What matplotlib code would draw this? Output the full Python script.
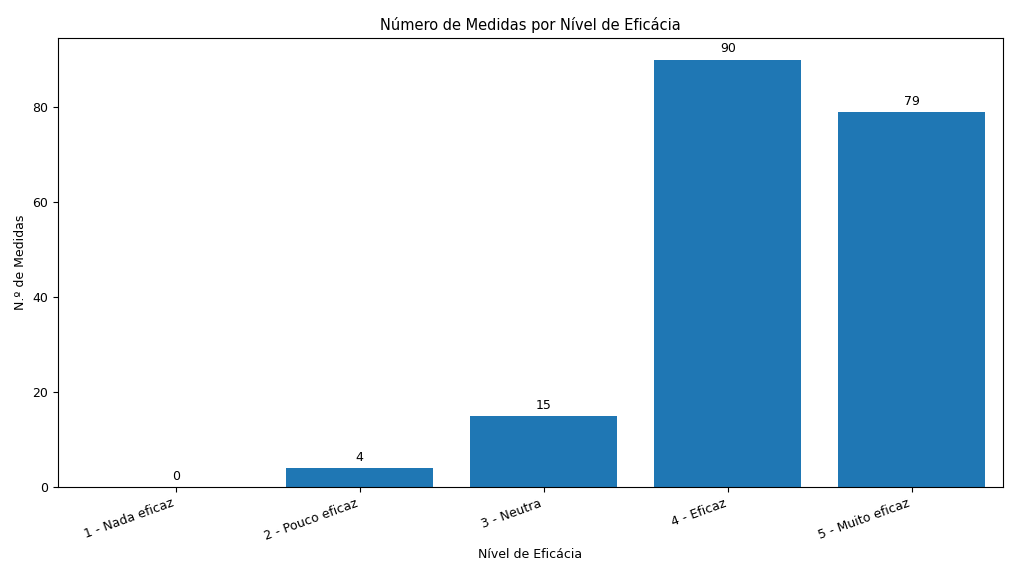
import matplotlib
matplotlib.use("Agg")
import matplotlib.pyplot as plt

# Efficacy levels and number of measures per level
LEVELS = ["1 - Nada eficaz", "2 - Pouco eficaz", "3 - Neutra",
          "4 - Eficaz", "5 - Muito eficaz"]
COUNTS = [0, 4, 15, 90, 79]

fig = plt.figure(figsize=(10.17, 5.61), dpi=100)
ax = fig.add_axes([0.057, 0.132, 0.929, 0.80])
bars = ax.bar(LEVELS, COUNTS, color="#1f77b4", width=0.8)
for b, v in zip(bars, COUNTS):
    ax.annotate(f"{v}", (b.get_x() + b.get_width() / 2, v),
                xytext=(0, 3), textcoords="offset points",
                ha="center", va="bottom", fontsize=9)
ax.set_xlim(-0.64, 4.495)
ax.set_ylim(0, 94.5)
ax.set_title("Número de Medidas por Nível de Eficácia", fontsize=10.5)
ax.set_xlabel("Nível de Eficácia", fontsize=9)
ax.set_ylabel("N.º de Medidas", fontsize=9)
ax.tick_params(labelsize=9)
plt.setp(ax.get_xticklabels(), rotation=20, ha="right")
fig.savefig("out.png", dpi=100)
